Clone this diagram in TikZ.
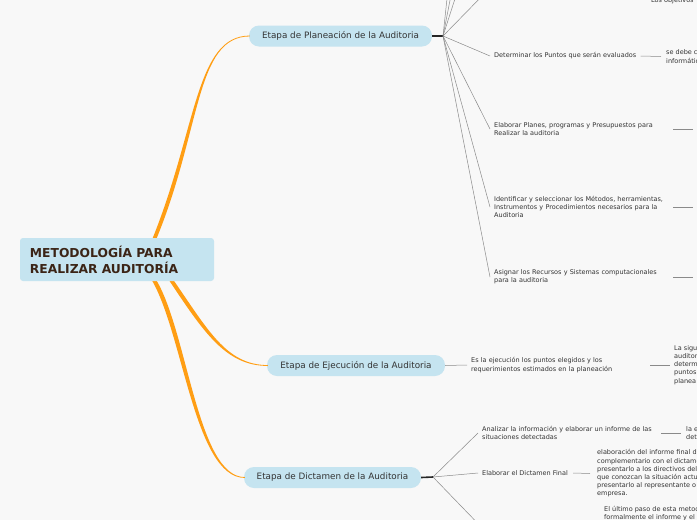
\documentclass[tikz,border=0pt]{standalone}
\usepackage{fontspec}
\setmainfont{DejaVu Sans}
\usetikzlibrary{calc}
\definecolor{bg}{HTML}{F8F8F8}
\definecolor{pill}{HTML}{C5E4F0}
\definecolor{orng}{HTML}{FF9E14}
\definecolor{txt}{HTML}{333333}
\definecolor{roottxt}{HTML}{3B2416}
\definecolor{conn}{HTML}{8A8A8A}
\begin{document}
\begin{tikzpicture}[x=1pt,y=-1pt,
  stage/.style={fill=pill, rounded corners=10pt, minimum height=21pt, inner xsep=0pt, inner ysep=0pt, font=\fontsize{8.8}{10}\selectfont, text=txt},
  leaf/.style={anchor=west, inner sep=0pt, align=left, font=\fontsize{6.5}{8.2}\selectfont, text=txt},
  wleaf/.style={leaf, text width=175pt},
  conn/.style={draw=conn, line width=0.5pt},
  hubline/.style={draw=black!85, line width=1.6pt},
]
\useasboundingbox (0,0) rectangle (697,520);
\fill[bg] (0,0) rectangle (697,520);
\clip (0,0) rectangle (697,520);

% stage nodes
\node[stage, minimum width=183pt] (plan) at (340.5,36) {Etapa de Planeación de la Auditoria};
\node[stage, minimum width=178pt] (ejec) at (356,365.5) {Etapa de Ejecución de la Auditoria};
\node[stage, minimum width=177pt] (dict) at (332.5,477.5) {Etapa de Dictamen de la Auditoria};

% orange tapered branches
\fill[orng] (151.5,241) .. controls (197,130) and (195,35.6) .. ($(plan.west)+(1,-0.4)$)
  -- ($(plan.west)+(1,0.4)$) .. controls (195,36.4) and (201.5,131) .. (155.5,241) -- cycle;
\fill[orng] (167.5,278) .. controls (203,331) and (225,365.9) .. ($(ejec.west)+(1,0.4)$)
  -- ($(ejec.west)+(1,-0.4)$) .. controls (226,365.1) and (207.5,329) .. (172,278) -- cycle;
\fill[orng] (150.5,278) .. controls (183,330) and (194,477.9) .. ($(dict.west)+(1,0.4)$)
  -- ($(dict.west)+(1,-0.4)$) .. controls (197,477.1) and (187.5,329) .. (155,278) -- cycle;

% root
\node[fill=pill, rounded corners=3pt, minimum width=194pt, minimum height=43pt,
      text width=174pt, inner xsep=10pt, align=left, text=roottxt,
      font=\bfseries\fontsize{12.3}{16}\selectfont] (root) at (117,259.5)
  {METODOLOGÍA PARA\\REALIZAR AUDITORÍA};

% planning branch
\coordinate (ph) at (443,36);
\draw[hubline] (plan.east) -- (ph);
\coordinate (top1) at (449,-20);
\coordinate (top2) at (454,-20);
\coordinate (top3) at (461,-20);
\coordinate (top4) at (488,-10);
\foreach \t in {top1,top2,top3,top4} \draw[conn] (ph) -- (\t);
\node[leaf] (obj) at (651,1) {Los objetivos};

\node[leaf] (det) at (494,56) {Determinar los Puntos que serán evaluados};
\node[wleaf] (ela) at (494,129) {Elaborar Planes, programas y Presupuestos para\\Realizar la auditoria};
\node[wleaf] (ide) at (494,207) {Identificar y seleccionar los Métodos, herramientas,\\Instrumentos y Procedimientos necesarios para la\\Auditoria};
\node[wleaf] (asi) at (494,277) {Asignar los Recursos y Sistemas computacionales\\para la auditoria};
\foreach \n in {det,ela,ide,asi} \draw[conn] (ph) -- ([xshift=-4pt]\n.west);

\node[leaf] (det2) at (666,56.5) {se debe c\\informátic};
\draw[conn] ([xshift=4pt]det.east) -- ([xshift=-5pt]det2.west);
\coordinate (ela2) at (693,129);
\coordinate (ide2) at (693,207);
\coordinate (asi2) at (693,277);
\draw[conn] ([xshift=4pt]ela.east) -- (ela2);
\draw[conn] ([xshift=4pt]ide.east) -- (ide2);
\draw[conn] ([xshift=4pt]asi.east) -- (asi2);

% execution branch
\node[wleaf] (eje1) at (471,365) {Es la ejecución los puntos elegidos y los\\requerimientos estimados en la planeación};
\draw[conn] (ejec.east) -- ([xshift=-4pt]eje1.west);
\node[leaf] (eje2) at (674,365) {La sigu\\auditor\\determ\\puntos\\planea};
\draw[conn] ([xshift=4pt]eje1.east) -- ([xshift=-4pt]eje2.west);

% dictamen branch
\coordinate (dh) at (433,477);
\draw[hubline] (dict.east) -- (dh);
\node[wleaf] (ana) at (482,433) {Analizar la información y elaborar un informe de las\\situaciones detectadas};
\node[leaf] (fin) at (482,473) {Elaborar el Dictamen Final};
\coordinate (low) at (490,536);
\draw[conn] (dh) -- ([xshift=-4pt]ana.west);
\draw[conn] (dh) -- ([xshift=-4pt]fin.west);
\draw[conn] (dh) -- (low);

\node[leaf] (ana2) at (686,433) {la e\\det};
\draw[conn] ([xshift=4pt]ana.east) -- ([xshift=-5pt]ana2.west);
\node[leaf] (fin2) at (597,473.5) {elaboración del informe final d\\complementario con el dictame\\presentarlo a los directivos del\\que conozcan la situación actu\\presentarlo al representante o\\empresa.};
\draw[conn] ([xshift=5pt]fin.east) -- ([xshift=-7pt]fin2.west);
\node[leaf, anchor=north west] (low2) at (604,506) {El último paso de esta metod\\formalmente el informe y el};
\end{tikzpicture}
\end{document}
